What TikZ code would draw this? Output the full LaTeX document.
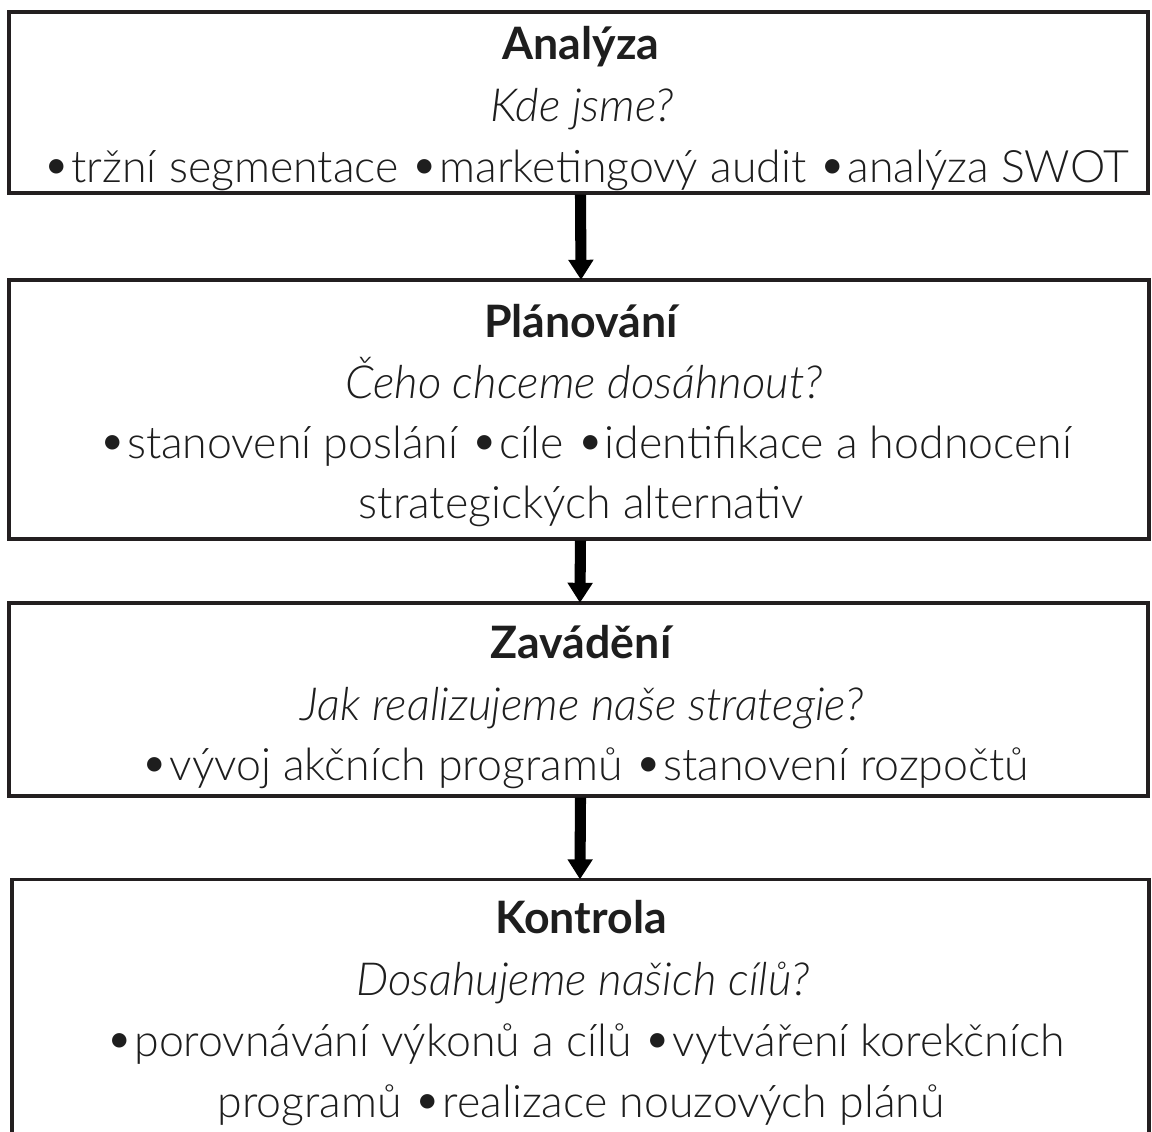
\documentclass[tikz,border=0pt]{standalone}
\usepackage{fontspec}
\setmainfont{Lato}[UprightFont=* Light, ItalicFont=* Light Italic, BoldFont=* Bold]
\usetikzlibrary{arrows.meta}
\definecolor{edge}{HTML}{231F20}
\definecolor{ink}{HTML}{1E1E1E}
\tikzset{
  box/.style={draw=edge, line width=2.3pt, rectangle, inner sep=0pt},
  title/.style={anchor=base, font=\fontsize{33.5}{38}\selectfont\bfseries, text=ink},
  quest/.style={anchor=base, font=\fontsize{34.2}{38}\selectfont\itshape, text=ink},
  items/.style={anchor=base, font=\fontsize{33.5}{38}\selectfont, text=ink},
  flow/.style={line width=8.3pt, draw=black, -{Triangle[length=15pt,width=18pt]}, shorten >=-1pt}
}
\newcommand{\bul}{\raisebox{0.01em}{\scalebox{1.1}{•}}\kern0.01em}
\begin{document}
\begin{tikzpicture}[x=0.75pt,y=-0.75pt]
\useasboundingbox[fill=white] (0,0) rectangle (1152,1131);
% boxes
\node[box, minimum width=1139*0.75pt, minimum height=181*0.75pt] (b1) at (578.5,102.5) {};
\node[box, minimum width=1140*0.75pt, minimum height=259*0.75pt] (b2) at (579,409.5) {};
\node[box, minimum width=1139*0.75pt, minimum height=193*0.75pt] (b3) at (578.5,699.5) {};
\node[box, minimum width=1137*0.75pt, minimum height=340*0.75pt, anchor=north] (b4) at (580.5,878) {};
% texts box 1
\node[title] (t1) at (581,60) {Analýza};
\node[quest] (q1) at (582,121) {Kde jsme?};
\node[items] (i1) at (586,182) {\bul tržní segmentace \bul marketingový audit \bul analýza SWOT};
% box 2
\node[title] (t2) at (581,337) {Plánování};
\node[quest] (q2) at (584,398) {Čeho chceme dosáhnout?};
\node[items] (i2a) at (585,458) {\bul stanovení poslání \bul cíle \bul identifikace a hodnocení};
\node[items] (i2b) at (581,518) {strategických alternativ};
% box 3
\node[title] (t3) at (581,658) {Zavádění};
\node[quest] (q3) at (582,720) {Jak realizujeme naše strategie?};
\node[items] (i3) at (585,780) {\bul vývoj akčních programů \bul stanovení rozpočtů};
% box 4
\node[title] (t4) at (581,933) {Kontrola};
\node[quest] (q4) at (583,995) {Dosahujeme našich cílů?};
\node[items] (i4a) at (585,1056) {\bul porovnávání výkonů a cílů \bul vytváření korekčních};
\node[items] (i4b) at (581,1117) {programů \bul realizace nouzových plánů};
% arrows
\draw[flow] ([xshift=1.5pt]b1.south) -- ([xshift=1.5pt]b2.north);
\draw[flow] ([xshift=1.1pt]b2.south) -- ([xshift=1.1pt]b3.north);
\draw[flow] ([xshift=1.5pt]b3.south) -- ([xshift=-0.4pt]b4.north);
\end{tikzpicture}
\end{document}
